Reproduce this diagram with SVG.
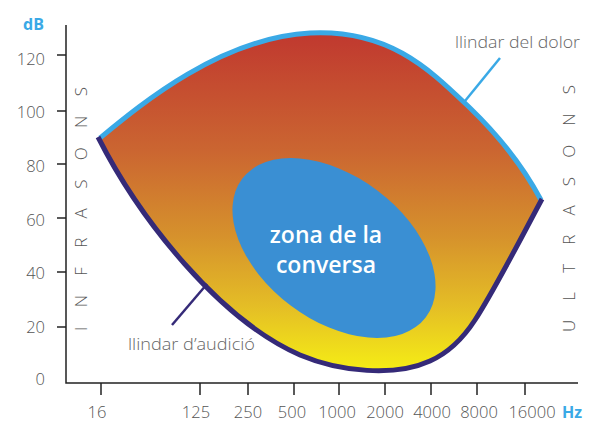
<svg xmlns="http://www.w3.org/2000/svg" width="590" height="423" viewBox="0 0 590 423">
<defs>
<linearGradient id="zoneGrad" gradientUnits="userSpaceOnUse" x1="0" y1="32" x2="0" y2="374">
<stop offset="0" stop-color="#c0382f"/>
<stop offset="0.35" stop-color="#cb6631"/>
<stop offset="0.6" stop-color="#d6922c"/>
<stop offset="0.8" stop-color="#e4bd26"/>
<stop offset="1" stop-color="#f6f014"/>
</linearGradient>
<style>
.axis{stroke:#222;stroke-width:1.5;fill:none}
.tick{stroke:#222;stroke-width:1.5}
.num{font-family:"Open Sans","Liberation Sans",sans-serif;font-weight:300;font-size:16.5px;fill:#555}
.unit{font-family:"Open Sans","Liberation Sans",sans-serif;font-weight:700;font-size:16px;fill:#3aa9e6}
.side{font-family:"Open Sans","Liberation Sans",sans-serif;font-weight:300;font-size:17px;fill:#555}
.lbl{font-family:"Open Sans","Liberation Sans",sans-serif;font-weight:300;font-size:17px;fill:#666}
.zone{font-family:"Open Sans","Liberation Sans",sans-serif;font-weight:600;font-size:23px;fill:#fff}
</style>
</defs>
<rect width="590" height="423" fill="#fff"/>
<g id="axes">
<path class="axis" d="M66,25 V383 H578"/>
<g class="tick">
<line x1="57" y1="55" x2="66" y2="55"/>
<line x1="57" y1="111" x2="66" y2="111"/>
<line x1="57" y1="164" x2="66" y2="164"/>
<line x1="57" y1="218" x2="66" y2="218"/>
<line x1="57" y1="272" x2="66" y2="272"/>
<line x1="57" y1="327" x2="66" y2="327"/>
<line x1="101" y1="383" x2="101" y2="395"/>
<line x1="200" y1="383" x2="200" y2="395"/>
<line x1="248" y1="383" x2="248" y2="395"/>
<line x1="294" y1="383" x2="294" y2="395"/>
<line x1="339" y1="383" x2="339" y2="395"/>
<line x1="385" y1="383" x2="385" y2="395"/>
<line x1="431" y1="383" x2="431" y2="395"/>
<line x1="477" y1="383" x2="477" y2="395"/>
<line x1="525" y1="383" x2="525" y2="395"/>
</g>
<g class="num" text-anchor="end">
<text x="45" y="65">120</text>
<text x="45" y="118">100</text>
<text x="45" y="172">80</text>
<text x="45" y="226">60</text>
<text x="45" y="279">40</text>
<text x="45" y="333">20</text>
<text x="45" y="385">0</text>
</g>
<g class="num" text-anchor="middle">
<text x="97" y="418">16</text>
<text x="196" y="418">125</text>
<text x="248" y="418">250</text>
<text x="292" y="418">500</text>
<text x="337" y="418">1000</text>
<text x="385" y="418">2000</text>
<text x="432" y="418">4000</text>
<text x="479" y="418">8000</text>
<text x="532" y="418">16000</text>
</g>
<text class="unit" x="23" y="30">dB</text>
<text class="unit" x="562" y="418">Hz</text>
<text class="side" transform="rotate(-90)" x="-331" y="87" textLength="244" lengthAdjust="spacing">INFRASONS</text>
<text class="side" transform="rotate(-90)" x="-332" y="575" textLength="247" lengthAdjust="spacing">ULTRASONS</text>
</g>
<g id="hearing-zone">
<path d="M100,138 C140,105 220,38 310,33 C390,29 430,70 470,108 C500,137 525,170 541,200 C520,240 495,289 475,320 C462,340 448,353 430,361 C395,377 340,372 300,355 C220,320 140,220 100,138 Z" fill="url(#zoneGrad)"/>
</g>
<g id="conversation-zone">
<ellipse cx="334" cy="248" rx="115" ry="72" transform="rotate(37 334 248)" fill="#3a8fd3"/>
<text class="zone" text-anchor="middle" x="326" y="243">zona de la</text>
<text class="zone" text-anchor="middle" x="326" y="273">conversa</text>
</g>
<g id="connectors" fill="none" stroke-linecap="butt">
<path id="pain-threshold" d="M100,138 C140,105 220,38 310,33 C390,29 430,70 470,108 C500,137 525,170 541,200" stroke="#3aa9e6" stroke-width="5"/>
<path id="hearing-threshold" d="M98,137 C140,220 220,320 300,355 C340,372 395,377 430,361 C448,353 462,340 475,320 C495,289 520,240 542,199" stroke="#352a78" stroke-width="5"/>
<line x1="500" y1="58" x2="465" y2="101" stroke="#3aa9e6" stroke-width="2.5"/>
<line x1="172" y1="325" x2="207" y2="284" stroke="#352a78" stroke-width="2.5"/>
</g>
<g id="labels">
<text class="lbl" x="455" y="48" textLength="125" lengthAdjust="spacingAndGlyphs">llindar del dolor</text>
<text class="lbl" x="128" y="350" textLength="127" lengthAdjust="spacingAndGlyphs">llindar d’audició</text>
</g>
</svg>
